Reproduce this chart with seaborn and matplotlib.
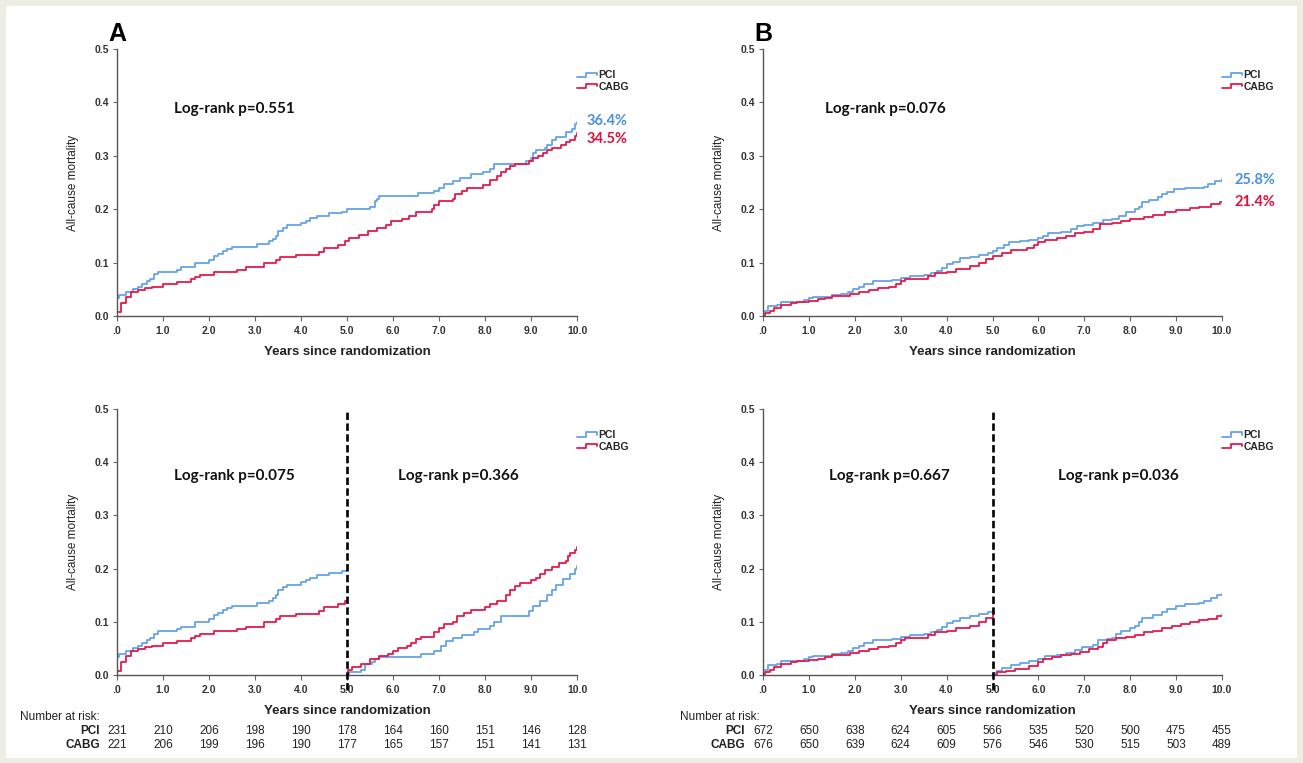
import matplotlib
matplotlib.use("Agg")
import matplotlib.pyplot as plt
import matplotlib.transforms as mtransforms
from matplotlib.lines import Line2D
from matplotlib.legend_handler import HandlerBase
from matplotlib.patches import Rectangle
import pandas as pd
import seaborn as sns

# ---- data ---------------------------------------------------------------
arms = ["PCI", "CABG"]
arm_colors = {"PCI": "#66a3e8", "CABG": "#e61a4b"}
label_colors = {"PCI": "#4a90e2", "CABG": "#e0103c"}

# panel A, whole follow-up
a_pci_t = [0, 0.05, 0.2, 0.35, 0.45, 0.55, 0.65, 0.72, 0.8, 0.9, 1.3, 1.4, 1.7, 2.0, 2.1, 2.2, 2.3, 2.4, 2.5, 3.05,
           3.3, 3.4, 3.45, 3.5, 3.6, 3.7, 4.0, 4.1, 4.2, 4.35, 4.6, 4.9, 5.0, 5.5, 5.6, 5.65, 5.7, 6.55, 6.9, 7.0,
           7.1, 7.3, 7.45, 7.7, 7.95, 8.1, 8.2, 8.9, 9.0, 9.05, 9.1, 9.3, 9.35, 9.45, 9.55, 9.75, 9.9, 9.95, 10.0]
a_pci_v = [0.033, 0.04, 0.045, 0.05, 0.055, 0.06, 0.065, 0.07, 0.078, 0.083, 0.087, 0.091, 0.1, 0.105, 0.112, 0.117,
           0.122, 0.126, 0.13, 0.135, 0.14, 0.145, 0.15, 0.16, 0.165, 0.17, 0.175, 0.178, 0.183, 0.188, 0.192, 0.195,
           0.2, 0.205, 0.215, 0.22, 0.225, 0.23, 0.235, 0.24, 0.248, 0.253, 0.258, 0.265, 0.27, 0.275, 0.285, 0.29,
           0.295, 0.305, 0.31, 0.315, 0.32, 0.33, 0.335, 0.345, 0.35, 0.36, 0.364]
a_cabg_t = [0, 0.08, 0.2, 0.3, 0.45, 0.6, 0.75, 1.0, 1.3, 1.6, 1.7, 1.8, 2.1, 2.6, 2.8, 3.2, 3.45, 3.55, 3.9, 4.4,
            4.5, 4.8, 4.95, 5.05, 5.25, 5.45, 5.65, 5.85, 5.95, 6.2, 6.35, 6.5, 6.85, 6.9, 7.0, 7.3, 7.35, 7.5, 7.6,
            7.95, 8.1, 8.25, 8.35, 8.45, 8.55, 8.65, 8.95, 9.05, 9.15, 9.25, 9.35, 9.45, 9.65, 9.75, 9.85, 9.95, 10.0]
a_cabg_v = [0.008, 0.025, 0.035, 0.045, 0.048, 0.052, 0.055, 0.06, 0.064, 0.069, 0.073, 0.077, 0.082, 0.087, 0.091,
            0.1, 0.105, 0.11, 0.115, 0.12, 0.128, 0.133, 0.14, 0.147, 0.152, 0.16, 0.165, 0.17, 0.177, 0.182, 0.187,
            0.195, 0.2, 0.208, 0.215, 0.22, 0.228, 0.235, 0.24, 0.245, 0.255, 0.262, 0.27, 0.275, 0.28, 0.285, 0.29,
            0.295, 0.3, 0.305, 0.31, 0.315, 0.32, 0.325, 0.33, 0.337, 0.342]

# panel A, landmark from year 5
a5_pci_t = [5.0, 5.05, 5.3, 5.4, 5.55, 5.6, 5.7, 6.6, 6.9, 7.05, 7.15, 7.3, 7.5, 7.75, 7.85, 8.1, 8.2, 8.35, 8.95,
            9.05, 9.2, 9.35, 9.45, 9.55, 9.7, 9.85, 9.95, 10.0]
a5_pci_v = [0.0, 0.005, 0.01, 0.02, 0.025, 0.03, 0.033, 0.04, 0.045, 0.055, 0.063, 0.07, 0.075, 0.08, 0.087, 0.093,
            0.1, 0.11, 0.12, 0.13, 0.14, 0.15, 0.16, 0.17, 0.18, 0.19, 0.2, 0.205]
a5_cabg_t = [5.0, 5.02, 5.1, 5.3, 5.5, 5.7, 5.9, 6.0, 6.1, 6.3, 6.4, 6.5, 6.6, 6.9, 7.0, 7.1, 7.3, 7.4, 7.55, 7.7,
             8.0, 8.1, 8.25, 8.45, 8.55, 8.65, 8.75, 9.0, 9.1, 9.2, 9.3, 9.45, 9.6, 9.75, 9.8, 9.85, 9.95, 10.0]
a5_cabg_v = [0.0, 0.01, 0.015, 0.02, 0.03, 0.035, 0.04, 0.045, 0.05, 0.055, 0.06, 0.067, 0.072, 0.08, 0.088, 0.095,
             0.1, 0.11, 0.117, 0.122, 0.127, 0.133, 0.14, 0.15, 0.16, 0.167, 0.173, 0.178, 0.183, 0.19, 0.197, 0.203,
             0.21, 0.215, 0.223, 0.23, 0.235, 0.24]

# panel B, whole follow-up
b_pci_t = [0, 0.1, 0.3, 0.4, 0.9, 1.0, 1.1, 1.3, 1.5, 1.7, 1.85, 1.95, 2.1, 2.2, 2.4, 2.6, 2.8, 3.0, 3.2, 3.5,
           3.65, 3.8, 3.9, 4.0, 4.15, 4.3, 4.5, 4.7, 4.9, 5.0, 5.1, 5.25, 5.35, 5.6, 5.8, 6.0, 6.1, 6.2, 6.5, 6.7,
           6.85, 7.0, 7.2, 7.4, 7.6, 7.75, 7.9, 8.1, 8.2, 8.25, 8.4, 8.6, 8.7, 8.8, 8.95, 9.2, 9.6, 9.7, 9.85, 10.0]
b_pci_v = [0.01, 0.018, 0.02, 0.027, 0.03, 0.033, 0.035, 0.036, 0.04, 0.042, 0.045, 0.05, 0.055, 0.06, 0.065, 0.066,
           0.068, 0.072, 0.075, 0.077, 0.08, 0.085, 0.09, 0.097, 0.102, 0.108, 0.111, 0.114, 0.118, 0.122, 0.128,
           0.133, 0.138, 0.14, 0.143, 0.146, 0.15, 0.155, 0.157, 0.163, 0.168, 0.17, 0.175, 0.18, 0.182, 0.188, 0.195,
           0.2, 0.205, 0.213, 0.218, 0.222, 0.228, 0.233, 0.237, 0.24, 0.242, 0.248, 0.252, 0.256]
b_cabg_t = [0, 0.05, 0.15, 0.25, 0.4, 0.6, 0.75, 1.0, 1.2, 1.35, 1.5, 1.8, 1.9, 2.1, 2.3, 2.5, 2.75, 2.9, 3.0, 3.1,
            3.4, 3.6, 3.75, 4.0, 4.2, 4.5, 4.7, 4.85, 5.0, 5.2, 5.4, 5.75, 5.9, 6.0, 6.15, 6.4, 6.6, 6.8, 7.0, 7.2,
            7.35, 7.6, 7.8, 8.0, 8.3, 8.5, 8.75, 9.0, 9.3, 9.5, 9.75, 9.95, 10.0]
b_cabg_v = [0.0, 0.005, 0.01, 0.015, 0.02, 0.024, 0.027, 0.029, 0.031, 0.034, 0.037, 0.038, 0.042, 0.045, 0.048,
            0.052, 0.055, 0.06, 0.065, 0.069, 0.07, 0.075, 0.08, 0.083, 0.088, 0.093, 0.1, 0.107, 0.113, 0.118, 0.124,
            0.127, 0.133, 0.138, 0.142, 0.146, 0.15, 0.155, 0.158, 0.163, 0.172, 0.175, 0.177, 0.182, 0.186, 0.19,
            0.194, 0.198, 0.202, 0.205, 0.209, 0.213, 0.214]

# panel B, landmark from year 5
b5_pci_t = [5.0, 5.1, 5.2, 5.4, 5.6, 5.8, 6.0, 6.15, 6.4, 6.6, 6.8, 6.95, 7.2, 7.3, 7.5, 7.6, 7.7, 7.8, 8.0, 8.1,
            8.2, 8.25, 8.5, 8.7, 8.8, 9.0, 9.2, 9.5, 9.6, 9.75, 9.9, 10.0]
b5_pci_v = [0.003, 0.008, 0.013, 0.018, 0.022, 0.026, 0.03, 0.035, 0.038, 0.042, 0.047, 0.053, 0.057, 0.065, 0.068,
            0.07, 0.078, 0.083, 0.088, 0.093, 0.1, 0.108, 0.112, 0.118, 0.125, 0.13, 0.133, 0.135, 0.14, 0.145, 0.15,
            0.153]
b5_cabg_t = [5.0, 5.1, 5.3, 5.5, 5.8, 6.0, 6.1, 6.3, 6.5, 6.7, 6.9, 7.1, 7.3, 7.4, 7.5, 7.7, 7.9, 8.1, 8.3, 8.5,
             8.7, 8.9, 9.1, 9.3, 9.5, 9.7, 9.9, 10.0]
b5_cabg_v = [0.0, 0.005, 0.008, 0.012, 0.017, 0.024, 0.03, 0.033, 0.037, 0.04, 0.043, 0.048, 0.053, 0.06, 0.066, 0.07,
             0.072, 0.075, 0.08, 0.083, 0.088, 0.092, 0.096, 0.1, 0.103, 0.106, 0.11, 0.112]

risk_years = [0, 1, 2, 3, 4, 5, 6, 7, 8, 9, 10]
a_risk_pci = [231, 210, 206, 198, 190, 178, 164, 160, 151, 146, 128]
a_risk_cabg = [221, 206, 199, 196, 190, 177, 165, 157, 151, 141, 131]
b_risk_pci = [672, 650, 638, 624, 605, 566, 535, 520, 500, 475, 455]
b_risk_cabg = [676, 650, 639, 624, 609, 576, 546, 530, 515, 503, 489]

x_ticks = [0, 1, 2, 3, 4, 5, 6, 7, 8, 9, 10]
x_ticklabels = [".0", "1.0", "2.0", "3.0", "4.0", "5.0", "6.0", "7.0", "8.0", "9.0", "10.0"]
y_ticks = [0.0, 0.1, 0.2, 0.3, 0.4, 0.5]
y_ticklabels = ["0.0", "0.1", "0.2", "0.3", "0.4", "0.5"]

a_final = {"PCI": "36.4%", "CABG": "34.5%"}
b_final = {"PCI": "25.8%", "CABG": "21.4%"}


# ---- helpers -------------------------------------------------------------
def first_part(t, v, stop=5.0):
    """keep the curve up to the landmark, closing it at the landmark"""
    tt = [x for x in t if x <= stop]
    vv = v[:len(tt)]
    if tt[-1] < stop:
        tt = tt + [stop]
        vv = vv + [vv[-1]]
    return tt, vv


def km_frame(curves):
    rows = []
    for arm, seg, t, v in curves:
        for x, y in zip(t, v):
            rows.append({"years": x, "mortality": y, "arm": arm, "segment": seg})
    return pd.DataFrame(rows)


class StepHandler(HandlerBase):
    # SPSS style step glyph in the legend
    def create_artists(self, legend, orig_handle, xdescent, ydescent, width, height, fontsize, trans):
        x0, y0 = -xdescent, -ydescent
        xs = [x0, x0 + 0.45 * width, x0 + 0.45 * width, x0 + width, x0 + width]
        ys = [y0 + 0.2 * height, y0 + 0.2 * height, y0 + 0.8 * height, y0 + 0.8 * height, y0 + 0.45 * height]
        line = Line2D(xs, ys, color=orig_handle.get_color(), lw=1.3)
        line.set_transform(trans)
        return [line]


def draw_panel(ax, df, landmark=False):
    sns.lineplot(data=df, x="years", y="mortality", hue="arm", hue_order=arms, units="segment",
                 estimator=None, palette=arm_colors, drawstyle="steps-post", linewidth=1.3,
                 legend=False, ax=ax)
    ax.set_xlim(0, 10)
    ax.set_ylim(0, 0.5)
    ax.set_xticks(x_ticks)
    ax.set_xticklabels(x_ticklabels, fontweight="bold", fontsize=7.5, color="#333333")
    ax.set_yticks(y_ticks)
    ax.set_yticklabels(y_ticklabels, fontweight="bold", fontsize=7.5, color="#333333")
    ax.tick_params(axis="x", length=3.5, width=0.8, color="#666666", pad=4)
    ax.tick_params(axis="y", length=3, width=0.8, color="#666666", pad=3)
    sns.despine(ax=ax)
    for s in ["left", "bottom"]:
        ax.spines[s].set_color("#555555")
        ax.spines[s].set_linewidth(1.0)
    ax.set_xlabel("Years since randomization", fontsize=9.5, fontweight="bold", color="#222222")
    ax.set_ylabel("All-cause mortality", fontsize=8.5, color="#222222")
    ax.xaxis.set_label_coords(0.5, -0.135)
    ax.xaxis.label.set_va("center")
    ax.yaxis.set_label_coords(-0.096, 0.5)
    ax.yaxis.label.set_va("center")

    handles = [Line2D([], [], color=arm_colors[a]) for a in arms]
    ax.legend(handles, arms, handler_map={Line2D: StepHandler()}, loc="upper left",
              bbox_to_anchor=(1.0, 0.92), borderaxespad=0, borderpad=0, frameon=False,
              prop={"size": 7.5, "weight": "bold"}, handlelength=1.9, handletextpad=0.15,
              labelspacing=0.12)
    if landmark:
        ax.axvline(5, ymin=-0.055, ymax=1.0, color="black", lw=1.9,
                   linestyle=(0, (2.8, 1.3)), clip_on=False, zorder=5)


def risk_table(fig, ax, pci, cabg, label_x, name_x):
    trans = mtransforms.blended_transform_factory(ax.transData, fig.transFigure)
    for x, n1, n2 in zip(risk_years, pci, cabg):
        ax.text(x, 1 - 731 / 763, str(n1), transform=trans, ha="center", va="center",
                fontsize=8.5, color="#222222")
        ax.text(x, 1 - 745 / 763, str(n2), transform=trans, ha="center", va="center",
                fontsize=8.5, color="#222222")
    fig.text(label_x, 1 - 717 / 763, "Number at risk:", ha="left", va="center", fontsize=8.5,
             color="#222222")
    fig.text(name_x, 1 - 731 / 763, "PCI", ha="right", va="center", fontsize=8.5,
             fontweight="bold", color="#222222")
    fig.text(name_x, 1 - 745 / 763, "CABG", ha="right", va="center", fontsize=8.5,
             fontweight="bold", color="#222222")


# ---- figure --------------------------------------------------------------
sns.set_style("ticks")
plt.rcParams["font.family"] = ["Liberation Sans", "DejaVu Sans"]
plain = ["Lato", "DejaVu Sans"]

W, H = 1303, 763
fig = plt.figure(figsize=(W / 100, H / 100), dpi=100, facecolor="#eeede3")
fig.add_artist(Rectangle((6 / W, 5 / H), 1 - 12 / W, 1 - 11 / H, transform=fig.transFigure,
                         facecolor="white", edgecolor="none", zorder=-1))

def px_axes(left, right, top, bottom):
    return fig.add_axes([left / W, 1 - bottom / H, (right - left) / W, (bottom - top) / H])

ax_a = px_axes(117, 577, 49, 316)
ax_b = px_axes(763, 1222, 49, 316)
ax_a5 = px_axes(117, 577, 409, 675)
ax_b5 = px_axes(763, 1222, 409, 675)

df_a = km_frame([("PCI", 0, a_pci_t, a_pci_v), ("CABG", 0, a_cabg_t, a_cabg_v)])
df_b = km_frame([("PCI", 0, b_pci_t, b_pci_v), ("CABG", 0, b_cabg_t, b_cabg_v)])
df_a5 = km_frame([("PCI", 0, *first_part(a_pci_t, a_pci_v)), ("CABG", 0, *first_part(a_cabg_t, a_cabg_v)),
                  ("PCI", 1, a5_pci_t, a5_pci_v), ("CABG", 1, a5_cabg_t, a5_cabg_v)])
df_b5 = km_frame([("PCI", 0, *first_part(b_pci_t, b_pci_v)), ("CABG", 0, *first_part(b_cabg_t, b_cabg_v)),
                  ("PCI", 1, b5_pci_t, b5_pci_v), ("CABG", 1, b5_cabg_t, b5_cabg_v)])

draw_panel(ax_a, df_a)
draw_panel(ax_b, df_b)
draw_panel(ax_a5, df_a5, landmark=True)
draw_panel(ax_b5, df_b5, landmark=True)

# panel letters
for ax, letter in [(ax_a, "A"), (ax_b, "B")]:
    ax.text(0.0, 1.012, letter, transform=ax.transAxes, ha="center", va="bottom",
            fontsize=18, fontweight="bold", color="black")

# log-rank annotations
lr_kw = dict(fontsize=11, fontweight="bold", family=plain, color="#111111", va="center", ha="left")
ax_a.text(0.123, 0.775, "Log-rank p=0.551", transform=ax_a.transAxes, **lr_kw)
ax_b.text(0.135, 0.775, "Log-rank p=0.076", transform=ax_b.transAxes, **lr_kw)
ax_a5.text(0.124, 0.748, "Log-rank p=0.075", transform=ax_a5.transAxes, **lr_kw)
ax_a5.text(0.611, 0.748, "Log-rank p=0.366", transform=ax_a5.transAxes, **lr_kw)
ax_b5.text(0.144, 0.748, "Log-rank p=0.667", transform=ax_b5.transAxes, **lr_kw)
ax_b5.text(0.643, 0.748, "Log-rank p=0.036", transform=ax_b5.transAxes, **lr_kw)

# final cumulative mortality
pct_kw = dict(fontsize=10.5, fontweight="bold", family=plain, va="center", ha="left")
ax_a.text(1.02, 0.73, a_final["PCI"], transform=ax_a.transAxes, color=label_colors["PCI"], **pct_kw)
ax_a.text(1.02, 0.662, a_final["CABG"], transform=ax_a.transAxes, color=label_colors["CABG"], **pct_kw)
ax_b.text(1.028, 0.509, b_final["PCI"], transform=ax_b.transAxes, color=label_colors["PCI"], **pct_kw)
ax_b.text(1.028, 0.427, b_final["CABG"], transform=ax_b.transAxes, color=label_colors["CABG"], **pct_kw)

# number at risk
risk_table(fig, ax_a5, a_risk_pci, a_risk_cabg, 20 / W, 100 / W)
risk_table(fig, ax_b5, b_risk_pci, b_risk_cabg, 680 / W, 745 / W)

fig.savefig("out.png", dpi=100, facecolor=fig.get_facecolor())
